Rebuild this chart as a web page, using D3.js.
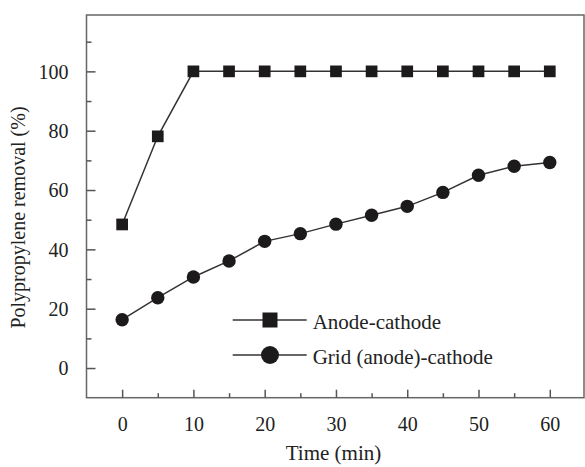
<!DOCTYPE html>
<html>
<head>
<meta charset="utf-8">
<script src="https://d3js.org/d3.v7.min.js"></script>
<style>
  body { margin: 0; background: #fff; }
  svg text { font-family: "Liberation Serif", Tinos, "Times New Roman", Times, "DejaVu Serif", serif !important; fill: #222; }
</style>
</head>
<body>
<div id="chart"></div>
<script>
// data
var times = [0, 5, 10, 15, 20, 25, 30, 35, 40, 45, 50, 55, 60];
var anodeCathode = [48.4, 78.1, 100, 100, 100, 100, 100, 100, 100, 100, 100, 100, 100];
var gridCathode = [16.3, 23.7, 30.7, 36.1, 42.7, 45.3, 48.5, 51.5, 54.5, 59.2, 65.0, 68.0, 69.3];
var seriesNames = ["Anode-cathode", "Grid (anode)-cathode"];
var xTicks = [0, 10, 20, 30, 40, 50, 60];
var xMinorTicks = [5, 15, 25, 35, 45, 55];
var yTicks = [0, 20, 40, 60, 80, 100];
var yMinorTicks = [10, 30, 50, 70, 90, 110];

var svgWidth = 585;
var svgHeight = 467;

var margin = {
  top: 15,
  right: 1,
  bottom: 69.3,
  left: 86.5
};

var width = svgWidth - margin.left - margin.right;
var height = svgHeight - margin.top - margin.bottom;

var svg = d3.select("#chart")
  .append("svg")
  .attr("width", svgWidth)
  .attr("height", svgHeight);

var chartGroup = svg.append("g")
  .attr("transform", `translate(${margin.left}, ${margin.top})`);

// Scales
// ==============================
var xScale = d3.scaleLinear()
  .domain([-5, 64.8])
  .range([0, width]);

var yScale = d3.scaleLinear()
  .domain([-10, 119])
  .range([height, 0]);

// Frame
// ==============================
chartGroup.append("rect")
  .attr("width", width)
  .attr("height", height)
  .attr("fill", "none")
  .attr("stroke", "#666")
  .attr("stroke-width", 1.5);

// Axes (ticks pointing inward)
// ==============================
var bottomAxis = d3.axisBottom(xScale)
  .tickValues(xTicks)
  .tickSize(-8)
  .tickPadding(19)
  .tickFormat(d3.format("d"));

var bottomMinor = d3.axisBottom(xScale)
  .tickValues(xMinorTicks)
  .tickSize(-4.5)
  .tickFormat("");

var leftAxis = d3.axisLeft(yScale)
  .tickValues(yTicks)
  .tickSize(-9)
  .tickPadding(18)
  .tickFormat(d3.format("d"));

var leftMinor = d3.axisLeft(yScale)
  .tickValues(yMinorTicks)
  .tickSize(-5)
  .tickFormat("");

chartGroup.append("g")
  .attr("transform", `translate(0, ${height})`)
  .call(bottomAxis);
chartGroup.append("g")
  .attr("transform", `translate(0, ${height})`)
  .call(bottomMinor);
var yAxisGroup = chartGroup.append("g").call(leftAxis);
chartGroup.append("g").call(leftMinor);

chartGroup.selectAll(".domain").remove();
chartGroup.selectAll(".tick line")
  .attr("stroke", "#555")
  .attr("stroke-width", 1.5);
chartGroup.selectAll(".tick text")
  .attr("font-size", 20)
  .attr("fill", "#222");
yAxisGroup.selectAll(".tick text").attr("dy", "0.34em");

// Lines and markers
// ==============================
var line = d3.line()
  .x(d => xScale(d[0]))
  .y(d => yScale(d[1]));

var anodeData = times.map((t, i) => [t, anodeCathode[i]]);
var gridData = times.map((t, i) => [t, gridCathode[i]]);

[anodeData, gridData].forEach(function(data) {
  chartGroup.append("path")
    .datum(data)
    .attr("d", line)
    .attr("fill", "none")
    .attr("stroke", "#333")
    .attr("stroke-width", 1.5);
});

var sq = 11.7;
chartGroup.selectAll(".sq")
  .data(anodeData)
  .enter()
  .append("rect")
  .attr("x", d => xScale(d[0]) - sq / 2)
  .attr("y", d => yScale(d[1]) - sq / 2)
  .attr("width", sq)
  .attr("height", sq)
  .attr("fill", "#1c1a1b");

chartGroup.selectAll(".dot")
  .data(gridData)
  .enter()
  .append("circle")
  .attr("cx", d => xScale(d[0]))
  .attr("cy", d => yScale(d[1]))
  .attr("r", 6.7)
  .attr("fill", "#1c1a1b");

// Legend
// ==============================
var legend = svg.append("g");
var legendRows = [320, 355];
seriesNames.forEach(function(name, i) {
  var cy = legendRows[i];
  legend.append("line")
    .attr("x1", 232.7)
    .attr("x2", 306.7)
    .attr("y1", cy)
    .attr("y2", cy)
    .attr("stroke", "#333")
    .attr("stroke-width", 1.5);
  if (i === 0) {
    legend.append("rect")
      .attr("x", 270 - 7.5)
      .attr("y", cy - 7.5)
      .attr("width", 15)
      .attr("height", 15)
      .attr("fill", "#1c1a1b");
  } else {
    legend.append("circle")
      .attr("cx", 270)
      .attr("cy", cy)
      .attr("r", 9)
      .attr("fill", "#1c1a1b");
  }
  legend.append("text")
    .attr("x", 312.7)
    .attr("y", cy + 9)
    .attr("font-size", 21)
    .text(name);
});

// Axis labels
// ==============================
svg.append("text")
  .attr("transform", "translate(25, 217.5) rotate(-90)")
  .attr("text-anchor", "middle")
  .attr("font-size", 20)
  .text("Polypropylene removal (%)");

svg.append("text")
  .attr("x", 333.5)
  .attr("y", 460)
  .attr("text-anchor", "middle")
  .attr("font-size", 21)
  .text("Time (min)");
</script>
</body>
</html>
